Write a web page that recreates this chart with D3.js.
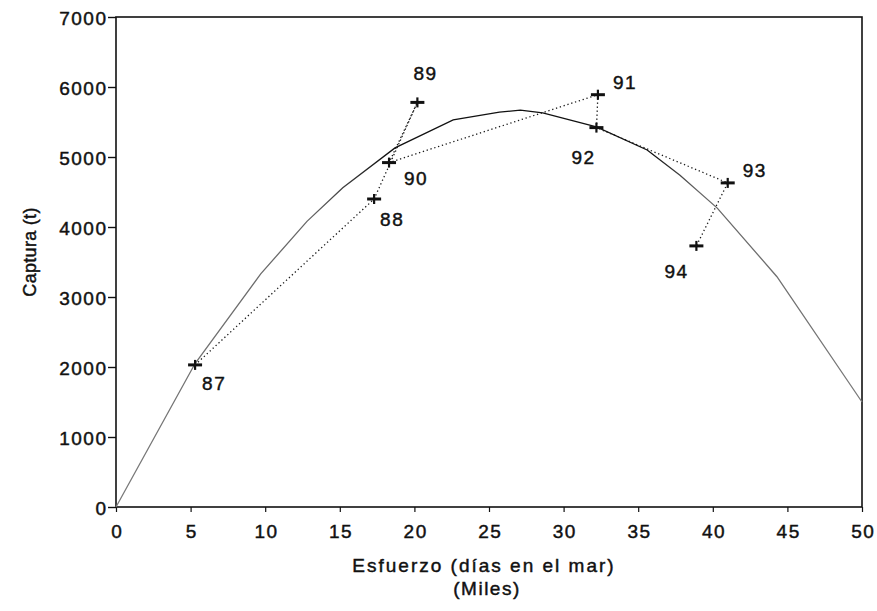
<!DOCTYPE html>
<html>
<head>
<meta charset="utf-8">
<script src="https://cdn.jsdelivr.net/npm/d3@7"></script>
<style>
  html, body { margin: 0; padding: 0; background: #fff; }
  svg { display: block; }
  text { font-family: "Liberation Sans", Arial, sans-serif; fill: #111; stroke: #111; stroke-width: 0.45px; }
</style>
</head>
<body>
<svg id="chart" width="877" height="611"></svg>
<script>
// Observed catch by year (effort in thousands of days at sea)
const years   = ["87", "88", "89", "90", "91", "92", "93", "94"];
const effort  = [5.3, 17.3, 20.2, 18.3, 32.3, 32.2, 41.0, 38.9];
const capture = [2030, 4400, 5780, 4920, 5890, 5420, 4630, 3730];

// Fitted surplus-production curve
const modelEffort  = [0, 5.3, 9.7, 12.8, 15.2, 18.7, 22.6, 25.7, 27.1, 28.6, 32.2, 35.6, 37.8, 40.3, 44.3, 50];
const modelCapture = [0, 2050, 3330, 4080, 4560, 5130, 5530, 5640, 5670, 5630, 5430, 5100, 4740, 4270, 3290, 1500];

// Axis ticks
const xTicks = [0, 5, 10, 15, 20, 25, 30, 35, 40, 45, 50];
const yTicks = [0, 1000, 2000, 3000, 4000, 5000, 6000, 7000];

const svg = d3.select("#chart");
const W = 877, H = 611;
const margin = { top: 17, right: 15, bottom: 104, left: 116 };

const x = d3.scaleLinear().domain([0, 50]).range([margin.left, W - margin.right]);
const y = d3.scaleLinear().domain([0, 7000]).range([H - margin.bottom, margin.top]);

const fontSize = 19, spacing = 1.5;

// Y axis
const gy = svg.append("g")
  .attr("transform", `translate(${margin.left},0)`)
  .call(d3.axisLeft(y).tickValues(yTicks).tickSize(8).tickPadding(2 - spacing).tickFormat(d3.format("d")));
gy.select(".domain").remove();
gy.selectAll(".tick line").attr("stroke", "#111").attr("stroke-width", 1.4);
gy.selectAll(".tick text")
  .attr("font-size", fontSize).attr("letter-spacing", spacing)
  .attr("font-family", "Liberation Sans, Arial, sans-serif")
  .attr("dy", "0.42em").attr("fill", "#111");

// X axis
const gx = svg.append("g")
  .attr("transform", `translate(0,${H - margin.bottom})`)
  .call(d3.axisBottom(x).tickValues(xTicks).tickSize(5).tickPadding(12.5).tickFormat(d3.format("d")));
gx.select(".domain").remove();
gx.selectAll(".tick line").attr("stroke", "#111").attr("stroke-width", 1.2);
gx.selectAll(".tick text")
  .attr("font-size", fontSize).attr("letter-spacing", spacing)
  .attr("font-family", "Liberation Sans, Arial, sans-serif")
  .attr("dx", spacing / 2).attr("fill", "#111");

// Plot frame
svg.append("rect")
  .attr("x", x(0)).attr("y", y(7000))
  .attr("width", x(50) - x(0)).attr("height", y(0) - y(7000))
  .attr("fill", "none").attr("stroke", "#111").attr("stroke-width", 1.6);

// Fitted curve: ink fades toward both ends of the effort range
const grad = svg.append("defs").append("linearGradient")
  .attr("id", "curveInk")
  .attr("gradientUnits", "userSpaceOnUse")
  .attr("x1", x(0)).attr("x2", x(50)).attr("y1", 0).attr("y2", 0);
[[0, "#7a7a7a"], [13, "#666"], [18, "#111"], [36, "#111"], [39, "#666"], [50, "#7a7a7a"]]
  .forEach(([e, c]) => grad.append("stop")
    .attr("offset", (x(e) - x(0)) / (x(50) - x(0)))
    .attr("stop-color", c));

const curvePts = modelEffort.map((e, i) => [e, modelCapture[i]]);
svg.append("path")
  .datum(curvePts)
  .attr("fill", "none")
  .attr("stroke", "url(#curveInk)")
  .attr("stroke-width", 1.3)
  .attr("d", d3.line().x(d => x(d[0])).y(d => y(d[1])));

// Year-to-year path (dotted)
const obs = years.map((yr, i) => ({ year: yr, e: effort[i], c: capture[i] }));
svg.append("path")
  .datum(obs)
  .attr("fill", "none")
  .attr("stroke", "#1a1a1a")
  .attr("stroke-width", 1.3)
  .attr("stroke-dasharray", "1.3,2.7")
  .attr("d", d3.line().x(d => x(d.e)).y(d => y(d.c)));

// Cross markers
const marks = svg.append("g").selectAll("g").data(obs).join("g")
  .attr("transform", d => `translate(${x(d.e)},${y(d.c)})`);
marks.append("line").attr("x1", -7).attr("x2", 7).attr("y1", 0).attr("y2", 0)
  .attr("stroke", "#111").attr("stroke-width", 3);
marks.append("line").attr("x1", 0).attr("x2", 0).attr("y1", -5).attr("y2", 5)
  .attr("stroke", "#111").attr("stroke-width", 2.2);

// Year labels, nudged off their markers
const labelNudge = {
  "87": [7, 25], "88": [6, 27], "89": [-4, -22], "90": [15, 22],
  "91": [15, -6], "92": [-25, 36], "93": [15, -6], "94": [-32, 32]
};
svg.append("g").selectAll("text").data(obs).join("text")
  .attr("x", d => x(d.e) + labelNudge[d.year][0])
  .attr("y", d => y(d.c) + labelNudge[d.year][1])
  .attr("font-size", fontSize).attr("letter-spacing", spacing)
  .text(d => d.year);

// Axis titles
svg.append("text")
  .attr("x", (x(0) + x(50)) / 2 - 5).attr("y", 572)
  .attr("text-anchor", "middle")
  .attr("font-size", fontSize).attr("letter-spacing", 2)
  .text("Esfuerzo (días en el mar)");
svg.append("text")
  .attr("x", (x(0) + x(50)) / 2 - 2).attr("y", 595)
  .attr("text-anchor", "middle")
  .attr("font-size", fontSize).attr("letter-spacing", spacing)
  .text("(Miles)");
svg.append("text")
  .attr("transform", `translate(36,252) rotate(-90)`)
  .attr("text-anchor", "middle")
  .attr("font-size", 18).attr("letter-spacing", 0.3)
  .text("Captura (t)");
</script>
</body>
</html>
